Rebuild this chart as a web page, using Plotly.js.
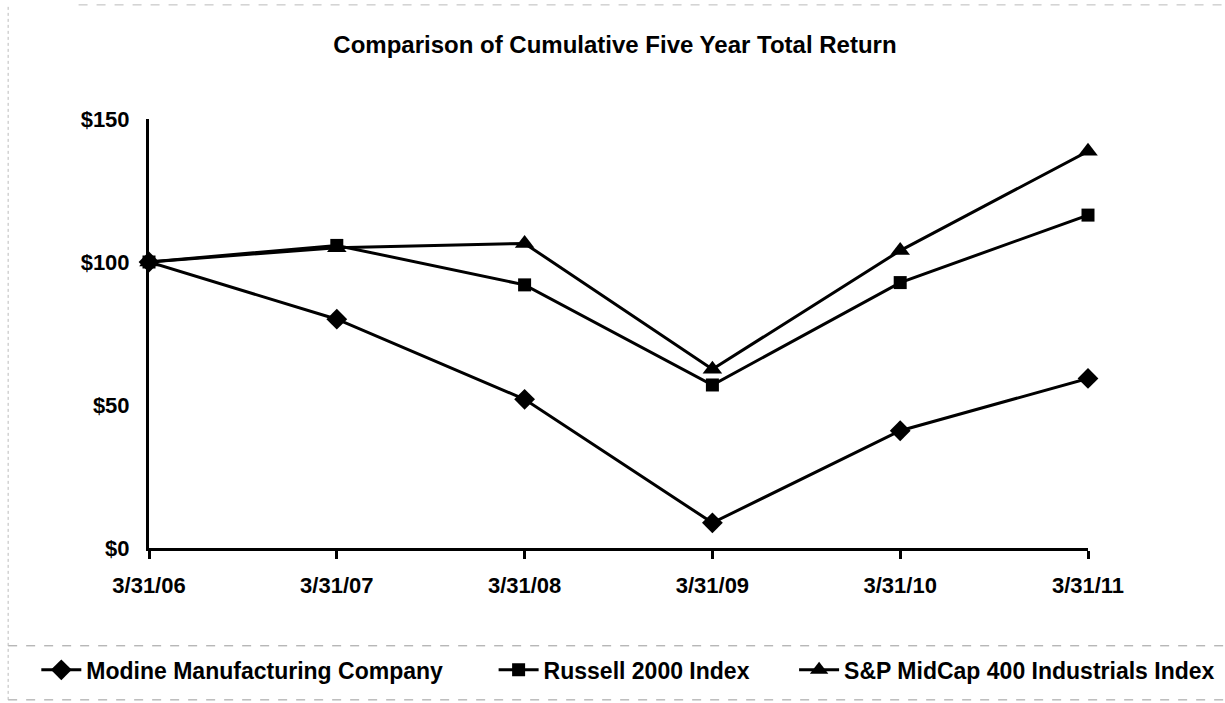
<!DOCTYPE html>
<html>
<head>
<meta charset="utf-8">
<script src="https://cdn.plot.ly/plotly-3.0.1.min.js"></script>
<style>html,body{margin:0;padding:0;background:#fff;}#chart{width:1225px;height:703px;}</style>
</head>
<body>
<div id="chart"></div>
<script>
const dates = ["3/31/06", "3/31/07", "3/31/08", "3/31/09", "3/31/10", "3/31/11"];
const modine = [100, 80, 52, 8.8, 41, 59.3];
const russell = [100, 105.8, 92, 57, 92.8, 116.4];
const spMidcap = [100, 105, 106.5, 62.5, 104, 138.7];
const yTicks = [0, 50, 100, 150];
const seriesNames = ["Modine Manufacturing Company", "Russell 2000 Index", "S&P MidCap 400 Industrials Index"];

const font = "Liberation Sans, Arial, sans-serif";
function series(name, y, symbol, size, legendId) {
  return {
    type: "scatter", mode: "lines+markers", name: "<b>" + name + "</b>",
    x: dates, y: y, cliponaxis: false, legend: legendId,
    line: {color: "#000", width: 3},
    marker: {symbol: symbol, size: size, color: "#000"}
  };
}
const data = [
  series(seriesNames[0], modine, "diamond", 16, "legend"),
  series(seriesNames[1], russell, "square", 13, "legend2"),
  series(seriesNames[2], spMidcap, "triangle-up", 17, "legend3")
];
function legendAt(x) {
  return {orientation: "h", x: x, xanchor: "left", y: -0.284, yanchor: "middle",
          font: {size: 23, family: font, color: "#000"},
          itemwidth: 40, bgcolor: "rgba(0,0,0,0)"};
}
const layout = {
  width: 1225, height: 703,
  margin: {l: 149, r: 137, t: 119, b: 155, autoexpand: false},
  paper_bgcolor: "#fff", plot_bgcolor: "#fff",
  font: {family: font, color: "#000"},
  title: {text: "<b>Comparison of Cumulative Five Year Total Return</b>",
          font: {size: 24, family: font, color: "#000"},
          x: 0.502, xanchor: "center", y: 0.936, yanchor: "middle", yref: "container"},
  xaxis: {type: "category", range: [0, 5], showgrid: false, zeroline: false,
          showline: true, linecolor: "#000", linewidth: 3,
          ticks: "outside", ticklen: 8, tickwidth: 3, tickcolor: "#000",
          ticklabelstandoff: 8, automargin: false,
          tickfont: {size: 22, family: font, color: "#000"},
          tickvals: dates, ticktext: dates.map(d => "<b>" + d + "</b>")},
  yaxis: {range: [0, 150], showgrid: false, zeroline: false,
          showline: true, linecolor: "#000", linewidth: 3,
          ticks: "", ticklabelstandoff: 12, automargin: false,
          tickvals: yTicks, ticktext: yTicks.map(v => "<b>$" + v + "</b>"),
          tickfont: {size: 22, family: font, color: "#000"}},
  showlegend: true,
  legend: legendAt(-0.12),
  legend2: legendAt(0.367),
  legend3: legendAt(0.687),
  shapes: [
    {type: "line", xref: "paper", yref: "paper", x0: -0.15, x1: 1.146, y0: -0.228, y1: -0.228,
     line: {color: "#999", width: 1, dash: "dash"}},
    {type: "line", xref: "paper", yref: "paper", x0: -0.15, x1: 1.146, y0: -0.354, y1: -0.354,
     line: {color: "#999", width: 1, dash: "dash"}},
    {type: "line", xref: "paper", yref: "paper", x0: -0.15, x1: -0.15, y0: -0.354, y1: 1.266,
     line: {color: "#bbb", width: 1, dash: "dot"}},
    {type: "line", xref: "paper", yref: "paper", x0: -0.075, x1: 1.146, y0: 1.266, y1: 1.266,
     line: {color: "#bbb", width: 1, dash: "dash"}}
  ]
};
Plotly.newPlot("chart", data, layout, {displayModeBar: false, staticPlot: true});
</script>
</body>
</html>
